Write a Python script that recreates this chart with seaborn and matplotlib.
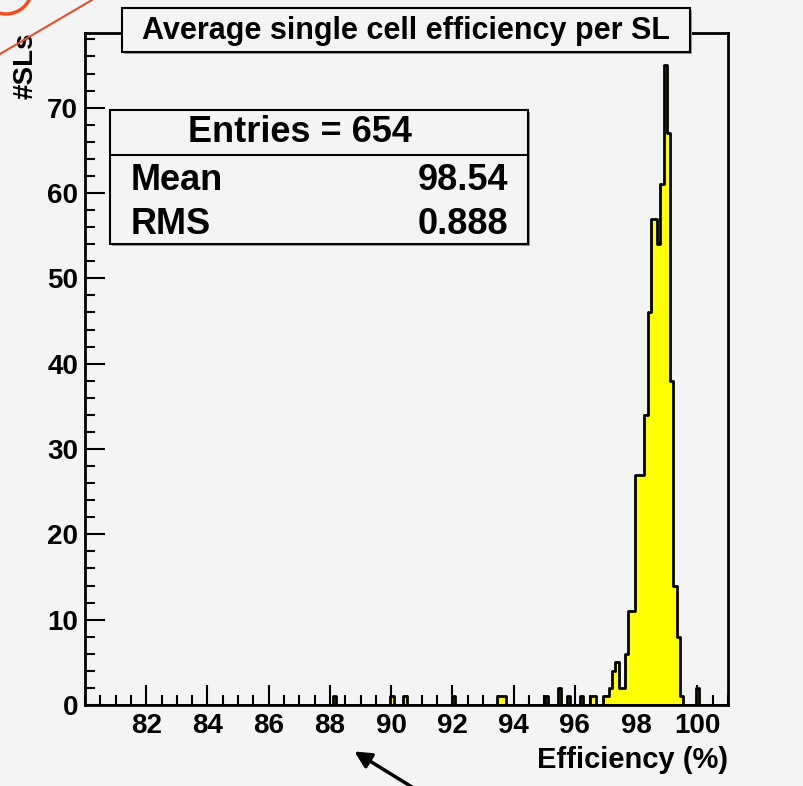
import numpy as np
import pandas as pd
import matplotlib
matplotlib.use("Agg")
import matplotlib.pyplot as plt
import seaborn as sns
from matplotlib.patches import Rectangle, Ellipse, FancyArrowPatch
from matplotlib.lines import Line2D
from matplotlib.ticker import MultipleLocator

# ---------------- data (bin centres of occupied bins and their counts) ----------------
efficiency = [88.14, 90.03, 90.45, 92.02, 93.49, 93.60, 93.70, 95.07, 95.49, 95.80,
              96.22, 96.54, 96.64, 96.96, 97.06, 97.17, 97.27, 97.38, 97.48, 97.59,
              97.69, 97.80, 97.90, 98.01, 98.11, 98.22, 98.32, 98.43, 98.53, 98.64,
              98.74, 98.85, 98.95, 99.06, 99.16, 99.27, 99.37, 99.48, 100.00]
n_sl = [1, 1, 1, 1, 1, 1, 1, 1, 2, 1,
        1, 1, 1, 1, 1, 2, 4, 5, 2, 2,
        6, 11, 11, 27, 27, 27, 34, 46, 57, 57,
        54, 61, 75, 67, 38, 14, 8, 1, 2]
n_bins = 200
x_range = (80, 101)
y_max = 78.75
x_major_ticks = [82, 84, 86, 88, 90, 92, 94, 96, 98, 100]
y_major_ticks = [0, 10, 20, 30, 40, 50, 60, 70]

title = "Average single cell efficiency per SL"
x_label = "Efficiency (%)"
y_label = "#SLs"
stats_entries = 654
stats_mean = "98.54"
stats_rms = "0.888"

# ---------------- style ----------------
bg = "#f4f4f4"
sns.set_theme(style="ticks")
plt.rcParams['font.family'] = ['Liberation Sans', 'DejaVu Sans']
plt.rcParams['font.weight'] = 'bold'
plt.rcParams['text.color'] = 'black'
plt.rcParams['axes.labelcolor'] = 'black'
plt.rcParams['xtick.color'] = 'black'
plt.rcParams['ytick.color'] = 'black'
plt.rcParams['xtick.labelcolor'] = 'black'
plt.rcParams['ytick.labelcolor'] = 'black'

W, H = 804, 786
fig = plt.figure(figsize=(W / 100, H / 100), dpi=100, facecolor=bg)


def fx(px):
    return px / W


def fy(py):
    return 1 - py / H


ax = fig.add_axes([fx(85), fy(705), (728 - 85) / W, (705 - 33) / H])
ax.set_facecolor(bg)

df = pd.DataFrame({"eff": efficiency, "n": n_sl})
sns.histplot(data=df, x="eff", weights="n", bins=n_bins, binrange=x_range,
             element="step", fill=True, facecolor="#ffff00", edgecolor="black",
             linewidth=2, alpha=1, ax=ax)

ax.set_xlim(*x_range)
ax.set_ylim(0, y_max)
ax.set_xlabel("")
ax.set_ylabel("")
ax.set_xticks(x_major_ticks)
ax.set_yticks(y_major_ticks)
ax.xaxis.set_minor_locator(MultipleLocator(0.5))
ax.yaxis.set_minor_locator(MultipleLocator(2))
ax.tick_params(which='both', direction='in', bottom=True, left=True, top=False,
               right=False, colors='black', labelcolor='black', width=1.5)
ax.tick_params(which='major', length=14.4, labelsize=20)
ax.tick_params(which='minor', length=7.2)
ax.tick_params(axis='x', which='major', pad=6)
ax.tick_params(axis='y', which='major', pad=5)
for lab in ax.get_xticklabels() + ax.get_yticklabels():
    lab.set_fontweight('bold')
    lab.set_color('black')
for sp in ax.spines.values():
    sp.set_visible(True)
    sp.set_color('black')
    sp.set_linewidth(2)

# axis titles
fig.text(fx(26), fy(66), y_label, rotation=90, ha='center', va='center',
         fontsize=20, fontweight='bold', color='black')
fig.text(fx(728), fy(760), x_label, ha='right', va='center',
         fontsize=21, fontweight='bold', color='black')

# title box
fig.add_artist(Rectangle((fx(124), fy(54)), (690 - 122) / W, (52 - 8) / H,
                         transform=fig.transFigure, facecolor='#9a9a9a',
                         edgecolor='none', zorder=5))
fig.add_artist(Rectangle((fx(122), fy(52)), (690 - 122) / W, (52 - 8) / H,
                         transform=fig.transFigure, facecolor=bg,
                         edgecolor='black', linewidth=1.5, zorder=6))
fig.text(fx(406), fy(31), title, ha='center', va='center', fontsize=22,
         fontweight='bold', color='black', zorder=7)

# stats box
fig.add_artist(Rectangle((fx(112), fy(246)), (528 - 110) / W, (244 - 110) / H,
                         transform=fig.transFigure, facecolor='#9a9a9a',
                         edgecolor='none', zorder=5))
fig.add_artist(Rectangle((fx(110), fy(244)), (528 - 110) / W, (244 - 110) / H,
                         transform=fig.transFigure, facecolor=bg,
                         edgecolor='black', linewidth=1.5, zorder=6))
fig.add_artist(Line2D([fx(110), fx(528)], [fy(155), fy(155)],
                      transform=fig.transFigure, color='black', lw=1.5, zorder=7))
fig.text(fx(300), fy(133), f"Entries = {stats_entries}", ha='center', va='center',
         fontsize=26, fontweight='bold', color='black', zorder=7)
fig.text(fx(131), fy(181), "Mean", ha='left', va='center', fontsize=26,
         fontweight='bold', color='black', zorder=7)
fig.text(fx(508), fy(181), stats_mean, ha='right', va='center', fontsize=26,
         fontweight='bold', color='black', zorder=7)
fig.text(fx(131), fy(224), "RMS", ha='left', va='center', fontsize=26,
         fontweight='bold', color='black', zorder=7)
fig.text(fx(508), fy(224), stats_rms, ha='right', va='center', fontsize=26,
         fontweight='bold', color='black', zorder=7)

# hand-drawn marks on the scan
fig.add_artist(Line2D([fx(0), fx(92)], [fy(54), fy(0)], transform=fig.transFigure,
                      color='#e0502a', lw=1.5, zorder=8))
fig.add_artist(Ellipse((fx(6), fy(-12)), 52 / W, 52 / H, transform=fig.transFigure,
                       fill=False, edgecolor='#f05020', linewidth=2.5, zorder=8))
fig.add_artist(FancyArrowPatch(posA=(fx(420), fy(792)), posB=(fx(352), fy(750)),
                               transform=fig.transFigure, arrowstyle='-|>',
                               mutation_scale=25, color='black', lw=2.5, zorder=8))

fig.savefig("out.png", dpi=100, facecolor=bg)
